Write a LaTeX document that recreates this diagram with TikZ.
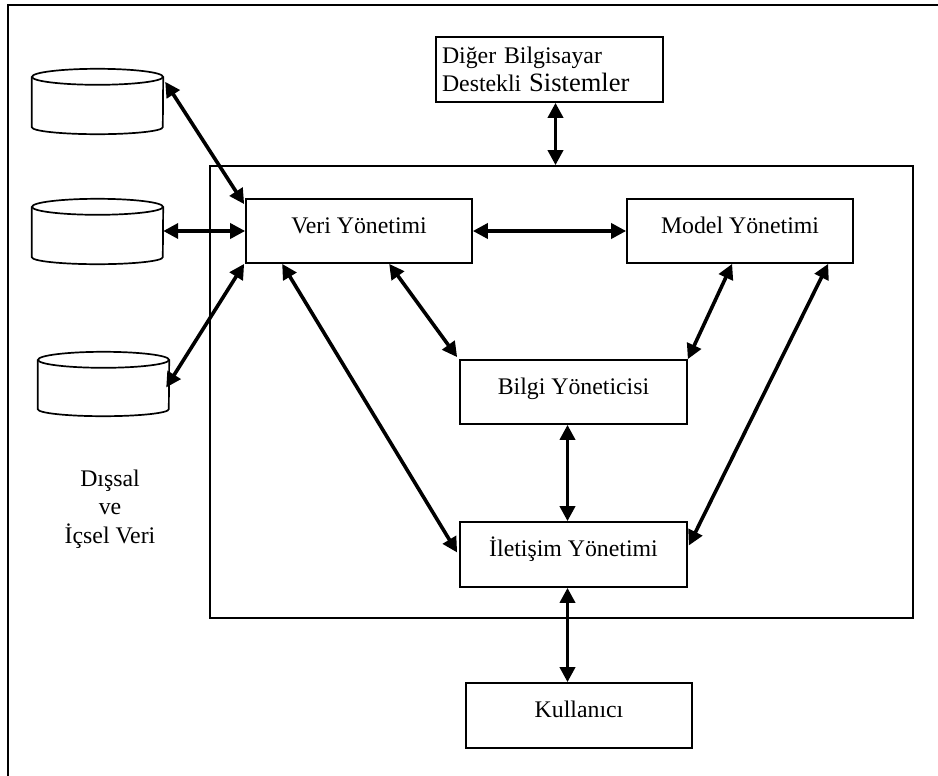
\documentclass[tikz,border=0pt]{standalone}
\usepackage{fontspec}
\setmainfont{Liberation Serif}
\usetikzlibrary{arrows.meta,calc}
% outline of a data store drawn around a plain (invisible) node
\newcommand\drawdrum[1]{%
  \draw[drumline] (#1.north west) -- (#1.south west)
    arc[start angle=180,end angle=360,x radius=65.5pt,y radius=7pt] -- (#1.north east);
  \draw[drumline] (#1.north) ellipse[x radius=65.5pt,y radius=8pt];}
\begin{document}
\begin{tikzpicture}[x=1pt,y=-1pt,
  every node/.style={font=\fontsize{23.8}{28.5}\selectfont},
  box/.style={draw,line width=1.7pt,inner sep=0pt,text height=16pt,text depth=12pt},
  frame/.style={draw,line width=1.7pt},
  drumline/.style={line width=1.7pt},
  drum/.style={minimum width=131pt,inner sep=0pt},
  link/.style={line width=3.6pt,
    {Triangle[length=15pt,width=15pt]}-{Triangle[length=15pt,width=15pt]}}]
\useasboundingbox (0,0) rectangle (938,776);
\clip (0,0) rectangle (938,776);

% page frame
\draw[frame] (8,5) rectangle (950,790);

% system boundary
\node[frame,minimum width=703pt,minimum height=452pt,inner sep=0pt] (sys) at (561.5,392) {};

% components
\node[box,minimum width=226pt,minimum height=64pt] (veri) at (359,231) {Veri Yönetimi};
\node[box,minimum width=226pt,minimum height=64pt] (model) at (740,231) {Model Yönetimi};
\node[box,minimum width=227pt,minimum height=64pt] (bilgi) at (573.5,392) {Bilgi Yöneticisi};
\node[box,minimum width=227pt,minimum height=65pt] (ilet) at (573.5,554.5) {İletişim Yönetimi};
\node[box,minimum width=226pt,minimum height=65pt] (kull) at (579,715.5) {Kullanıcı};
\node[draw,line width=1.7pt,minimum width=227pt,minimum height=65pt,inner sep=6pt,
      text width=215pt,align=left] (diger) at (549.5,69.5)
  {Diğer Bilgisayar\\Destekli {\fontsize{26.5}{28.5}\selectfont Sistemler}};

% data stores
\node[drum,minimum height=50pt] (c1) at (97.5,102) {};
\node[drum,minimum height=50pt] (c2) at (97.5,232) {};
\node[drum,minimum height=49pt] (c3) at (103.5,384.5) {};
\drawdrum{c1}
\drawdrum{c2}
\drawdrum{c3}
\node[align=center] (dis) at (110,509) {Dışsal\\ve\\İçsel Veri};

% anchor points for the vertical links
\coordinate (bl) at ($(bilgi.south)+(-6,0)$);
\coordinate (il) at ($(ilet.south)+(-6,0)$);
\coordinate (dg) at ($(diger.south)+(6,0)$);

% connections
\draw[link] ($(c1.north east)+(2,5)$) -- ($(veri.north west)+(-1,6)$);
\draw[link] (c2.east |- veri.west) -- (veri.west);
\draw[link] ($(c3.east)+(-3,3)$) -- ($(veri.south west)+(-1,0)$);
\draw[link] ($(veri.south west)+(37,0)$) -- ($(ilet.west)+(-2,-2)$);
\draw[link] ($(veri.south west)+(144,0)$) -- ($(bilgi.north west)+(-2,-2)$);
\draw[link] (veri.east) -- (model.west);
\draw[link] ($(model.south west)+(106,0)$) -- (bilgi.north east);
\draw[link] ($(model.south west)+(202,0)$) -- ($(ilet.east)+(1,-9)$);
\draw[link] (bl) -- (bl |- ilet.north);
\draw[link] (il) -- (il |- kull.north);
\draw[link] (dg) -- (dg |- sys.north);
\end{tikzpicture}
\end{document}
